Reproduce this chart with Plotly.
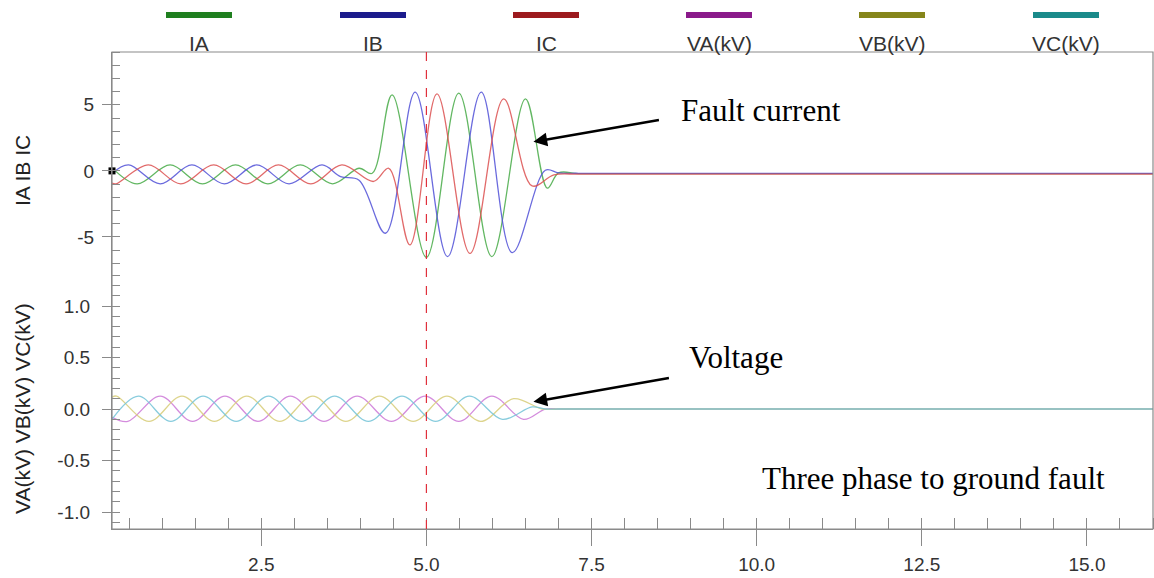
import plotly.graph_objects as go

# ---------------- data ----------------
# Currents: turning points of each phase (time, value)
ia_t = [0.24, 0.62, 1.12, 1.61, 2.11, 2.60, 3.09, 3.58, 3.98, 4.18, 4.48, 5.00, 5.49, 5.99, 6.50, 6.83, 7.00, 7.30, 8.00, 16.0]
ia_v = [0.25, -0.98, 0.45, -0.98, 0.45, -0.98, 0.45, -0.98, 0.20, -0.18, 5.76, -6.54, 5.89, -6.49, 5.45, -1.31, -0.15, -0.20, -0.20, -0.20]

ib_t = [0.24, 0.49, 0.97, 1.45, 1.94, 2.43, 2.92, 3.42, 3.70, 3.98, 4.38, 4.83, 5.32, 5.83, 6.30, 6.80, 7.00, 7.30, 8.00, 16.0]
ib_v = [-0.20, 0.45, -0.98, 0.45, -0.98, 0.45, -0.98, 0.45, -0.43, -0.70, -4.72, 5.96, -6.49, 5.96, -6.19, 0.05, -0.15, -0.18, -0.18, -0.18]

ic_t = [0.24, 0.30, 0.79, 1.28, 1.78, 2.27, 2.76, 3.25, 3.72, 4.20, 4.43, 4.75, 5.16, 5.66, 6.17, 6.60, 6.93, 7.30, 8.00, 16.0]
ic_v = [-0.92, -0.98, 0.45, -0.98, 0.45, -0.98, 0.45, -0.98, 0.45, -0.80, 0.20, -5.60, 5.83, -6.24, 5.45, -1.14, -0.30, -0.25, -0.25, -0.25]

# Voltages (kV): turning points of each phase
va_t = [0.24, 0.48, 0.97, 1.46, 1.95, 2.45, 2.94, 3.45, 3.95, 4.47, 4.98, 5.49, 5.99, 6.47, 6.80, 7.00, 7.30, 16.0]
va_v = [-0.08, -0.12, 0.125, -0.12, 0.125, -0.12, 0.125, -0.12, 0.125, -0.12, 0.125, -0.12, 0.125, -0.10, 0.0, 0.0, 0.0, 0.0]

vb_t = [0.24, 0.31, 0.80, 1.30, 1.79, 2.28, 2.78, 3.28, 3.78, 4.29, 4.80, 5.31, 5.82, 6.32, 6.75, 7.00, 7.30, 16.0]
vb_v = [0.115, 0.125, -0.12, 0.125, -0.12, 0.125, -0.12, 0.125, -0.12, 0.125, -0.12, 0.125, -0.12, 0.10, 0.0, 0.0, 0.0, 0.0]

vc_t = [0.24, 0.64, 1.13, 1.62, 2.12, 2.61, 3.11, 3.61, 4.12, 4.63, 5.14, 5.65, 6.15, 6.60, 6.80, 7.00, 7.30, 16.0]
vc_v = [-0.10, 0.125, -0.12, 0.125, -0.12, 0.125, -0.12, 0.125, -0.12, 0.125, -0.12, 0.125, -0.10, 0.02, 0.0, 0.0, 0.0, 0.0]

legend_names = ["IA", "IB", "IC", "VA(kV)", "VB(kV)", "VC(kV)"]
legend_colors = ["#1f7f1f", "#1c1c8c", "#9c1a1e", "#8a1a8a", "#85851a", "#1a8a8a"]
trace_colors = ["rgba(70,170,70,0.85)", "rgba(80,80,215,0.85)", "rgba(220,80,80,0.85)",
                "rgba(205,120,215,0.85)", "rgba(215,205,120,0.85)", "rgba(115,195,215,0.85)"]

fault_time = 5.0
x_range = [0.24, 16.0]
y_cur_range = [-7.35, 9.0]
y_volt_range = [-1.165, 1.369]
x_ticks = [2.5, 5.0, 7.5, 10.0, 12.5, 15.0]
y_cur_ticks = [-5, 0, 5]
y_cur_labels = ["-5", "0", "5"]
y_volt_ticks = [-1.0, -0.5, 0.0, 0.5, 1.0]
y_volt_labels = ["-1.0", "-0.5", "0.0", "0.5", "1.0"]

# ---------------- layout helpers ----------------
W, H = 1154, 578
PL, PR, PT, PB = 112, 1153, 52, 529   # plot-area pixel bounds


def px_x(p):
    return (p - PL) / (PR - PL)


def px_y(p):
    return (PB - p) / (PB - PT)


split = px_y(268)

fig = go.Figure()

series = [(ia_t, ia_v, "y"), (ib_t, ib_v, "y"), (ic_t, ic_v, "y"),
          (va_t, va_v, "y2"), (vb_t, vb_v, "y2"), (vc_t, vc_v, "y2")]
for (t, v, ya), name, col in zip(series, legend_names, trace_colors):
    fig.add_trace(go.Scatter(x=t, y=v, name=name, mode="lines", xaxis="x", yaxis=ya,
                             line=dict(color=col, width=1.3, shape="spline", smoothing=1.0),
                             showlegend=False))

# small cursor marker at the left edge
fig.add_trace(go.Scatter(x=[x_range[0]], y=[0], mode="markers", xaxis="x", yaxis="y",
                         marker=dict(symbol="square", size=7, color="black"),
                         cliponaxis=False, showlegend=False, hoverinfo="skip"))

tick_font = dict(family="Arial, Liberation Sans, sans-serif", size=19, color="#333333")
axis_col = "#8a8a8a"

fig.update_layout(
    width=W, height=H,
    margin=dict(l=PL, r=W - PR, t=PT, b=H - PB),
    plot_bgcolor="white", paper_bgcolor="white",
    showlegend=False,
    xaxis=dict(domain=[0, 1], anchor="y2", range=x_range,
               tickvals=x_ticks, tickformat=".1f",
               ticks="outside", ticklen=16, tickcolor=axis_col, tickwidth=1,
               minor=dict(dtick=0.5, tick0=0, ticks="inside", ticklen=11, tickcolor=axis_col),
               showline=True, linecolor=axis_col, linewidth=1.2,
               showgrid=False, zeroline=False, tickfont=tick_font, ticklabelstandoff=2),
    yaxis=dict(domain=[split, 1], anchor="x", range=y_cur_range,
               tickvals=y_cur_ticks, ticktext=y_cur_labels, ticks="outside", ticklen=9, tickcolor=axis_col,
               minor=dict(dtick=1, tick0=0, ticks="inside", ticklen=8, tickcolor=axis_col),
               showline=True, linecolor=axis_col, linewidth=1.2,
               showgrid=False, zeroline=False, tickfont=tick_font, ticklabelstandoff=4),
    yaxis2=dict(domain=[0, split], anchor="x", range=y_volt_range,
                tickvals=y_volt_ticks, ticktext=y_volt_labels,
                ticks="outside", ticklen=9, tickcolor=axis_col,
                minor=dict(dtick=0.1, tick0=0, ticks="inside", ticklen=8, tickcolor=axis_col),
                showline=True, linecolor=axis_col, linewidth=1.2,
                showgrid=False, zeroline=False, tickfont=tick_font, ticklabelstandoff=8),
)

shapes = [
    dict(type="rect", xref="paper", yref="paper", x0=0, x1=1, y0=0, y1=1,
         line=dict(color=axis_col, width=1.2), fillcolor="rgba(0,0,0,0)", layer="above"),
    dict(type="line", xref="x", yref="paper", x0=fault_time, x1=fault_time, y0=0, y1=1,
         line=dict(color="#e0303c", width=1.2, dash="dash")),
]

annotations = []
# custom legend: swatch above label
leg_centers_px = [199, 373, 546, 719, 892, 1066]
for name, col, cx in zip(legend_names, legend_colors, leg_centers_px):
    shapes.append(dict(type="rect", xref="paper", yref="paper",
                       x0=px_x(cx - 33), x1=px_x(cx + 33), y0=px_y(18), y1=px_y(12),
                       line=dict(width=0), fillcolor=col))
    annotations.append(dict(text=name, xref="paper", yref="paper", x=px_x(cx), y=px_y(43),
                            xanchor="center", yanchor="middle", showarrow=False,
                            font=dict(family="Arial, Liberation Sans, sans-serif", size=21, color="#333333")))

# axis titles
title_font = dict(family="Arial, Liberation Sans, sans-serif", size=21, color="#222222")
annotations.append(dict(text="IA IB IC", xref="paper", yref="paper", x=px_x(22), y=px_y(171),
                        textangle=-90, showarrow=False, xanchor="center", yanchor="middle", font=title_font))
annotations.append(dict(text="VA(kV) VB(kV) VC(kV)", xref="paper", yref="paper", x=px_x(22), y=px_y(409),
                        textangle=-90, showarrow=False, xanchor="center", yanchor="middle", font=title_font))

serif = dict(family="Times New Roman, Liberation Serif, serif", size=31, color="black")
annotations += [
    dict(text="Fault current", xref="x", yref="y", x=10.06, y=4.6, showarrow=False,
         xanchor="center", yanchor="middle", font=serif),
    dict(text="", xref="x", yref="y", x=6.62, y=2.2, ax=127, ay=-22, showarrow=True,
         arrowhead=2, arrowsize=1.1, arrowwidth=2.5, arrowcolor="black"),
    dict(text="Voltage", xref="x", yref="y2", x=9.68, y=0.5, showarrow=False,
         xanchor="center", yanchor="middle", font=serif),
    dict(text="", xref="x", yref="y2", x=6.62, y=0.07, ax=137, ay=-24, showarrow=True,
         arrowhead=2, arrowsize=1.1, arrowwidth=2.5, arrowcolor="black"),
    dict(text="Three phase to ground fault", xref="x", yref="y2", x=12.67, y=-0.67, showarrow=False,
         xanchor="center", yanchor="middle", font=serif),
]

fig.update_layout(shapes=shapes, annotations=annotations)
fig.write_html(
    "out.html",
    config={"displayModeBar": False},
    post_script=("document.body.style.margin='0';"
                 "document.body.style.overflow='hidden';"
                 "document.documentElement.style.overflow='hidden';"),
)
